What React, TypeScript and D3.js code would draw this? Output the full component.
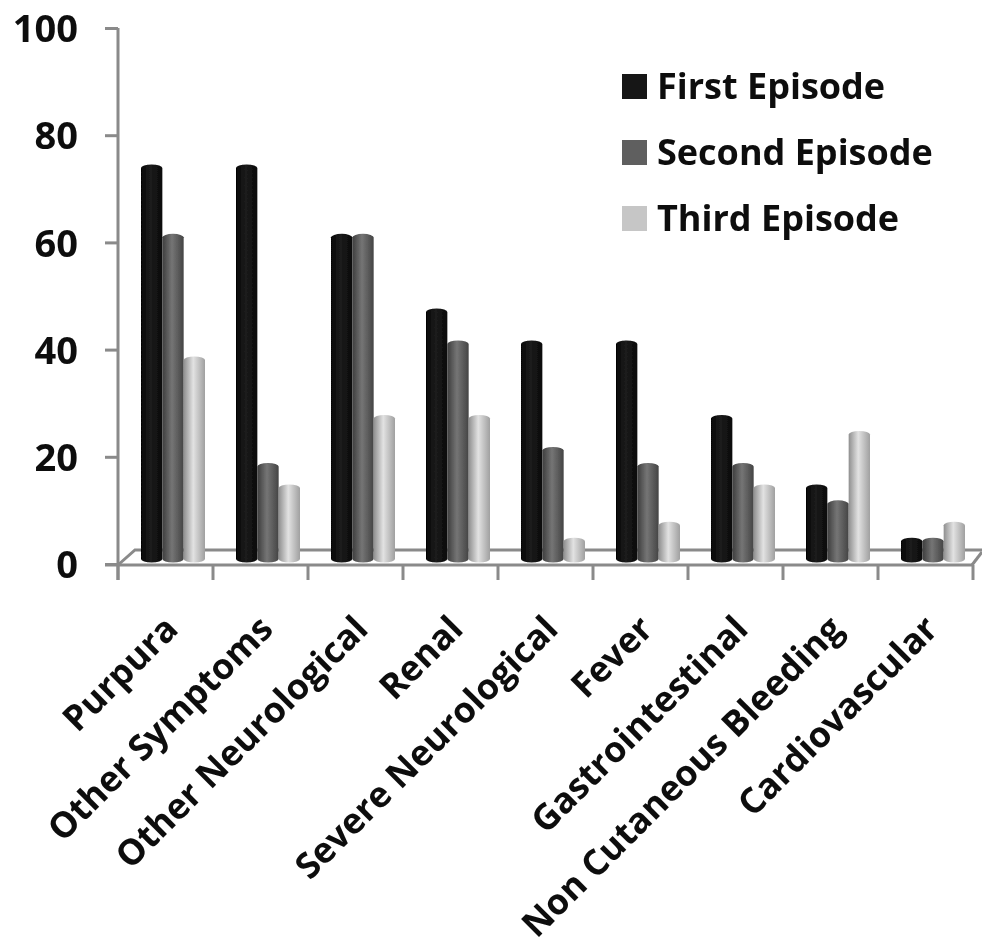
import React, { useEffect, useRef } from "react";
import * as d3 from "d3";

const categories = ["Purpura", "Other Symptoms", "Other Neurological", "Renal", "Severe Neurological", "Fever", "Gastrointestinal", "Non Cutaneous Bleeding", "Cardiovascular"];
const firstEpisode = [74, 74, 61, 47, 41, 41, 27, 14, 4];
const secondEpisode = [61, 18, 61, 41, 21, 18, 18, 11, 4];
const thirdEpisode = [38, 14, 27, 27, 4, 7, 14, 24, 7];
const seriesNames = ["First Episode", "Second Episode", "Third Episode"];
const yTicks = [0, 20, 40, 60, 80, 100];

const font = "'Open Sans', Lato, sans-serif";
const swatch = ["#141414", "#5f5f5f", "#c6c6c6"];
// edge / middle / edge stops of the cylinder shading
const shades = [
    ["#050505", "#1c1c1c", "#0a0a0a"],
    ["#3e3e3e", "#757575", "#444444"],
    ["#8f8f8f", "#e2e2e2", "#a0a0a0"],
];

export default function App() {
    const ref = useRef<SVGSVGElement>(null);
    useEffect(() => {
        const svg = d3.select(ref.current!);
        svg.selectAll("*").remove();
        const grey = "#8a8a8a";
        const defs = svg.append("defs");
        shades.forEach((s, i) => {
            const g = defs.append("linearGradient").attr("id", "cyl" + i);
            g.append("stop").attr("offset", "0%").attr("stop-color", s[0]);
            g.append("stop").attr("offset", "45%").attr("stop-color", s[1]);
            g.append("stop").attr("offset", "100%").attr("stop-color", s[2]);
        });
        defs.append("filter").attr("id", "soft").append("feGaussianBlur").attr("stdDeviation", 0.7);

        const root = svg.append("g").attr("filter", "url(#soft)");

        // axis scales sit on the front of the floor, bars on the floor itself
        const x = d3.scaleBand().domain(categories).range([118, 973]);
        const yAxis = d3.scaleLinear().domain([0, 100]).range([564, 28]);
        const yBar = d3.scaleLinear().domain([0, 100]).range([559, 26]);
        const inner = d3.scaleBand().domain(seriesNames).range([23, 87]);

        // floor
        const floor = root.append("g").attr("stroke", grey).attr("stroke-width", 3).attr("fill", "none");
        floor.append("path").attr("d", d3.line()([[118, 565], [135, 550], [982, 550]]));
        floor.append("path").attr("d", d3.line()([[972, 565], [982, 552]]));
        floor.append("path").attr("d", d3.line()([[105, 565], [973, 565]]));

        // y axis
        const axisLeft = root.append("g").attr("transform", "translate(118,0)").call(
            d3.axisLeft(yAxis).tickValues(yTicks).tickSize(13).tickSizeOuter(0)
        );
        axisLeft.select(".domain").remove();
        axisLeft.selectAll("line").attr("stroke", grey).attr("stroke-width", 3);
        axisLeft.selectAll("text")
            .attr("x", -40).attr("dy", "0.36em")
            .attr("fill", "#0a0a0a")
            .style("font", `bold 38px ${font}`);
        root.append("line").attr("x1", 118).attr("x2", 118).attr("y1", yAxis(100)).attr("y2", 580)
            .attr("stroke", grey).attr("stroke-width", 3);

        // category ticks
        root.append("g").selectAll("line").data([...categories.map(c => x(c)!), 973]).join("line")
            .attr("x1", d => d).attr("x2", d => d).attr("y1", 565).attr("y2", 580)
            .attr("stroke", grey).attr("stroke-width", 3);

        // cylinders
        const rows = [firstEpisode, secondEpisode, thirdEpisode];
        const ry = 3.5;
        rows.forEach((vals, s) => {
            const w = inner.bandwidth();
            const x0 = inner(seriesNames[s])!;
            const g = root.append("g");
            g.selectAll("path.body").data(categories).join("path")
                .attr("class", "body")
                .attr("fill", `url(#cyl${s})`)
                .attr("d", (c, i) => {
                    const l = x(c)! + x0;
                    const t = yBar(vals[i]) + ry;
                    const b = yBar(0);
                    return `M${l},${t}A${w / 2},${ry} 0 0 1 ${l + w},${t}V${b}A${w / 2},${ry} 0 0 1 ${l},${b}Z`;
                });
        });

        // category labels
        root.append("g").selectAll("text").data(categories).join("text")
            .attr("transform", c => `translate(${x(c)! + 62},631) rotate(-45)`)
            .attr("text-anchor", "end")
            .attr("fill", "#0a0a0a")
            .style("font", `bold 35.5px ${font}`)
            .text(c => c);

        // legend
        const legendY = d3.scalePoint().domain(seriesNames).range([86, 218]);
        const legend = root.append("g").selectAll("g").data(seriesNames).join("g")
            .attr("transform", d => `translate(622,${legendY(d)})`);
        legend.append("rect").attr("y", -12).attr("width", 25).attr("height", 25).attr("fill", (d, i) => swatch[i]);
        legend.append("text").attr("x", 35).attr("dy", "0.36em")
            .attr("fill", "#0a0a0a")
            .style("font", `bold 36px ${font}`)
            .text(d => d);
    }, []);
    return (
        <svg ref={ref} width={982} height={948} viewBox="0 0 982 948"
            style={{ position: "absolute", left: 0, top: 0, background: "#fff" }} />
    );
}
